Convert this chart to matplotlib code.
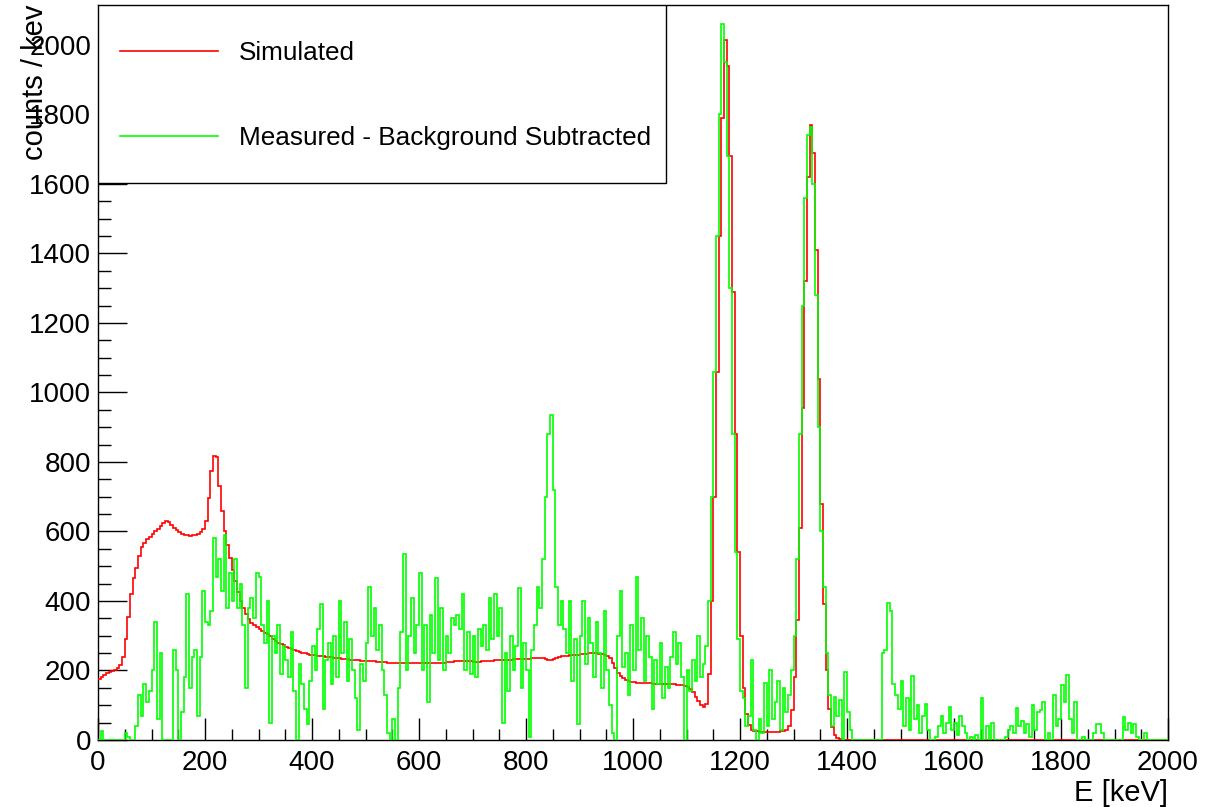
import numpy as np
import matplotlib
matplotlib.use("Agg")
import matplotlib.pyplot as plt
from matplotlib.lines import Line2D
from matplotlib.patches import Rectangle
from matplotlib.ticker import MultipleLocator

plt.rcParams['font.family'] = ['Liberation Sans', 'DejaVu Sans']

# ---------------- data (5 keV bins, 0..2000 keV) ----------------
bin_width = 5
e_min, e_max = 0, 2000

simulated = [
    175, 180, 186, 192, 196, 199, 202, 206, 215, 240,
    290, 355, 420, 465, 495, 530, 555, 568, 578, 585,
    592, 600, 607, 615, 625, 630, 628, 620, 610, 603,
    598, 594, 591, 589, 588, 589, 591, 594, 598, 606,
    630, 695, 775, 818, 815, 730, 660, 600, 560, 525,
    490, 458, 425, 400, 380, 362, 348, 338, 330, 324,
    318, 313, 309, 305, 298, 292, 286, 280, 275, 272,
    268, 264, 261, 258, 255, 253, 251, 249, 248, 246,
    245, 244, 243, 242, 241, 240, 239, 238, 237, 236,
    235, 234, 233, 232, 231, 230, 229, 229, 228, 228,
    227, 227, 226, 226, 225, 225, 224, 224, 223, 223,
    223, 222, 222, 222, 222, 222, 222, 222, 222, 222,
    222, 222, 222, 223, 223, 223, 223, 223, 223, 223,
    224, 224, 225, 226, 227, 228, 228, 228, 227, 226,
    225, 225, 225, 226, 226, 227, 227, 228, 229, 230,
    230, 230, 231, 231, 231, 232, 232, 232, 232, 233,
    233, 234, 235, 236, 237, 236, 235, 233, 231, 230,
    232, 236, 239, 241, 242, 243, 244, 245, 246, 246,
    247, 248, 248, 249, 249, 250, 249, 248, 247, 246,
    243, 236, 222, 207, 194, 184, 177, 172, 169, 167,
    166, 165, 165, 164, 164, 163, 163, 162, 162, 162,
    161, 161, 161, 160, 160, 160, 159, 159, 158, 156,
    152, 146, 137, 125, 112, 102, 96, 105, 190, 400,
    700, 1060, 1450, 1790, 2015, 1940, 1680, 1290, 880, 540,
    300, 150, 75, 42, 30, 26, 25, 24, 24, 23,
    23, 23, 23, 24, 24, 25, 26, 28, 40, 85,
    180, 345, 610, 955, 1320, 1620, 1770, 1690, 1410, 1040,
    680, 390, 200, 90, 38, 14, 5, 2, 0, 0,
] + [0] * 120

measured = [
    0, 25, 0, 0, 0, 0, 0, 0, 0, 0,
    20, 10, 0, 0, 40, 130, 70, 160, 110, 140,
    200, 340, 60, 250, 0, 0, 0, 0, 260, 200,
    0, 80, 180, 420, 150, 240, 260, 70, 240, 430,
    340, 330, 370, 580, 470, 520, 430, 590, 380, 480,
    400, 520, 380, 450, 330, 150, 380, 410, 350, 480,
    470, 330, 280, 400, 50, 300, 250, 330, 190, 270,
    230, 180, 310, 140, 0, 220, 160, 90, 45, 170,
    270, 200, 320, 390, 90, 230, 280, 160, 300, 180,
    400, 250, 340, 170, 290, 200, 120, 30, 220, 170,
    280, 440, 300, 380, 260, 330, 200, 130, 20, 0,
    60, 0, 150, 310, 535, 200, 300, 410, 250, 330,
    480, 200, 330, 110, 360, 250, 465, 230, 380, 200,
    300, 250, 350, 330, 360, 320, 420, 200, 310, 190,
    300, 180, 320, 270, 330, 260, 410, 290, 420, 300,
    380, 50, 250, 140, 300, 200, 270, 437, 150, 280,
    200, 10, 260, 330, 440, 380, 520, 700, 880, 935,
    720, 440, 330, 400, 320, 250, 400, 170, 290, 45,
    300, 400, 220, 350, 280, 180, 340, 250, 150, 370,
    200, 100, 20, 0, 300, 430, 210, 250, 130, 330,
    200, 470, 260, 350, 170, 300, 240, 90, 230, 160,
    280, 120, 210, 150, 240, 310, 220, 280, 180, 0,
    200, 140, 230, 170, 300, 180, 220, 270, 400, 700,
    1060, 1450, 1800, 2060, 1950, 1680, 1300, 880, 540, 290,
    140, 120, 40, 70, 230, 30, 0, 60, 20, 165,
    40, 200, 60, 110, 170, 30, 150, 80, 130, 200,
    300, 520, 880, 1250, 1560, 1740, 1765, 1600, 1280, 900,
    600, 440, 250, 130, 40, 125, 70, 115, 0, 195,
    80, 30, 0, 0, 0, 0, 0, 0, 0, 0,
    0, 0, 0, 250, 260, 395, 370, 160, 130, 90,
    170, 40, 120, 30, 185, 60, 100, 20, 70, 105,
    30, 0, 0, 10, 40, 70, 20, 50, 95, 30,
    50, 15, 70, 40, 20, 0, 10, 0, 15, 0,
    120, 0, 40, 0, 50, 0, 0, 0, 0, 10,
    30, 40, 20, 92, 40, 55, 20, 45, 10, 100,
    30, 80, 85, 110, 0, 20, 0, 130, 40, 60,
    158, 110, 187, 60, 20, 110, 0, 0, 10, 0,
    0, 0, 20, 45, 45, 20, 0, 0, 0, 0,
    0, 0, 0, 66, 30, 50, 20, 45, 10, 0,
    0, 20, 0, 0, 0, 0, 0, 0, 0, 0,
]

legend_labels = ["Simulated", "Measured - Background Subtracted"]
x_label = "E [keV]"
y_label = "counts / kev"

# ---------------- figure ----------------
W, H = 1214, 807
fig = plt.figure(figsize=(W / 100, H / 100), dpi=100)
ax = fig.add_axes([98 / W, 1 - 740 / H, 1070 / W, 735 / H])

edges = np.arange(e_min, e_max + bin_width, bin_width)
ax.stairs(measured, edges, baseline=None, color='#00ff00', lw=1.2, zorder=3)
ax.stairs(simulated, edges, baseline=None, color='#ff0000', lw=1.2, zorder=2.9)

ax.set_xlim(0, 2000)
ax.set_ylim(0, 2115)

ax.xaxis.set_major_locator(MultipleLocator(200))
ax.xaxis.set_minor_locator(MultipleLocator(50))
ax.yaxis.set_major_locator(MultipleLocator(200))
ax.yaxis.set_minor_locator(MultipleLocator(50))

ax.tick_params(axis='x', which='major', direction='in', length=16, width=1.0,
               labelsize=20, pad=7, top=False)
ax.tick_params(axis='x', which='minor', direction='in', length=8, width=1.0, top=False)
ax.tick_params(axis='y', which='major', direction='in', length=21, width=1.0,
               labelsize=20, pad=5, right=False)
ax.tick_params(axis='y', which='minor', direction='in', length=9.5, width=1.0, right=False)

for s in ax.spines.values():
    s.set_linewidth(1.0)
    s.set_color('black')

# legend frame and entries
ax.add_patch(Rectangle((0, (740 - 183) / 735), (666 - 98) / 1070, (183 - 5) / 735,
                       transform=ax.transAxes, facecolor='white', edgecolor='black',
                       lw=1.0, zorder=4))
handles = [Line2D([], [], color='#ff0000', lw=1.2),
           Line2D([], [], color='#00ff00', lw=1.2)]
leg = ax.legend(handles, legend_labels, loc='upper left',
                bbox_to_anchor=((120 - 98) / 1070, (740 - 41) / 735),
                frameon=False, fontsize=18.8, borderpad=0, borderaxespad=0,
                handlelength=3.77, handletextpad=0.77, labelspacing=2.33)
leg.set_zorder(5)

fig.text(1168 / W, 1 - 793 / H, x_label, ha='right', va='center', fontsize=21)
fig.text(35 / W, 1 - 5 / H, y_label, ha='center', va='top', rotation=90, fontsize=21)

fig.savefig("out.png", dpi=100)
